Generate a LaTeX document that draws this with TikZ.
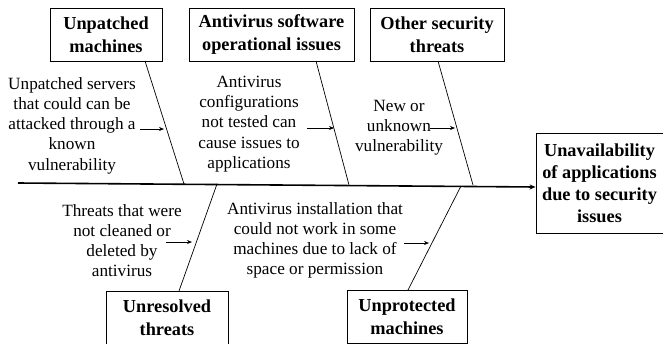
\documentclass[tikz,border=0pt]{standalone}
\usepackage{fontspec}
\setmainfont{Liberation Serif}
\usetikzlibrary{arrows.meta}
\begin{document}
\begin{tikzpicture}[x=1pt,y=-1pt,
  cause/.style={draw,line width=0.9pt,minimum height=53pt,inner sep=0pt,align=center,
    font=\fontsize{18.3}{23.5}\selectfont\bfseries},
  note/.style={align=center,inner sep=0pt,font=\fontsize{17.2}{20.2}\selectfont},
  bone/.style={line width=0.7pt},
  small/.style={line width=0.7pt,-{Stealth[length=5pt,width=4pt]}}]
\useasboundingbox (0,0) rectangle (663,343);
% cause boxes
\node[cause,minimum width=112pt] (b1) at (106,34.5) {Unpatched\\machines};
\node[cause,minimum width=165pt] (b2) at (271.5,34.5) {Antivirus software\\operational issues};
\node[cause,minimum width=134pt] (b3) at (437,34.5) {Other security\\threats};
\node[cause,minimum width=122pt] (b5) at (167,317.5) {Unresolved\\threats};
\node[cause,minimum width=120pt] (b6) at (407,316.5) {Unprotected\\machines};
\node[cause,minimum width=127pt,minimum height=100pt,font=\fontsize{18.3}{22}\selectfont\bfseries] (b4) at (599.5,183) {Unavailability\\of applications\\due to security\\issues};
% notes
\node[note] (t1) at (72,125.5) {Unpatched servers\\that could can be\\attacked through a\\known\\vulnerability};
\node[note] (t2) at (249,124) {Antivirus\\configurations\\not tested can\\cause issues to\\applications};
\node[note] (t3) at (399,127.5) {New or\\unknown\\vulnerability};
\node[note] (t4) at (122,240.5) {Threats that were\\not cleaned or\\deleted by\\antivirus};
\node[note] (t5) at (315,240.5) {Antivirus installation that\\could not work in some\\machines due to lack of\\space or permission};
% spine
\coordinate (sL) at (18,183);
\draw[line width=1.6pt,-{Stealth[length=6pt,width=5pt]}] (sL) -- ([yshift=-4pt]b4.west);
% bone coordinates
\coordinate (u1) at (145,61); \coordinate (s1) at (184,184);
\coordinate (u2) at (316,61); \coordinate (s2) at (349,185);
\coordinate (u3) at (438,61); \coordinate (s3) at (473,185);
\coordinate (d5) at (179,291); \coordinate (s5) at (217,184);
\coordinate (d6) at (408,290); \coordinate (s6) at (461,186);
\draw[bone] (u1) -- (s1);
\draw[bone] (u2) -- (s2);
\draw[bone] (u3) -- (s3);
\draw[bone] (d5) -- (s5);
\draw[bone] (d6) -- (s6);
% small arrows
\coordinate (a1s) at (140,129); \coordinate (a1e) at (164,129);
\coordinate (a2s) at (307,128); \coordinate (a2e) at (334,128);
\coordinate (a3s) at (430,128); \coordinate (a3e) at (455,128);
\coordinate (a5s) at (166,242); \coordinate (a5e) at (192,242);
\coordinate (a6s) at (404,243); \coordinate (a6e) at (429,243);
\draw[small] (a1s) -- (a1e);
\draw[small] (a2s) -- (a2e);
\draw[small] (a3s) -- (a3e);
\draw[small] (a5s) -- (a5e);
\draw[small] (a6s) -- (a6e);
\end{tikzpicture}
\end{document}
